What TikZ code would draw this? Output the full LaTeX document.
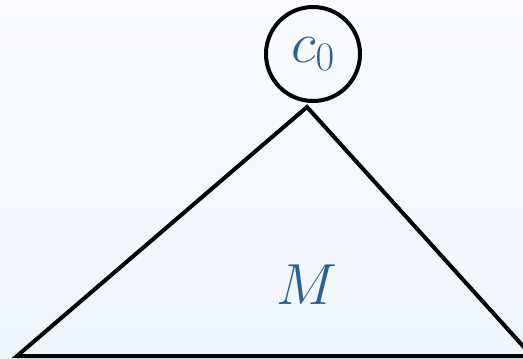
\documentclass[tikz,border=0pt]{standalone}
\usepackage{fix-cm}
\definecolor{txtblue}{HTML}{2B5F97}
\definecolor{bgtop}{HTML}{F9FBFE}
\definecolor{bgbot}{HTML}{EEF5FC}
\begin{document}
\begin{tikzpicture}[x=1pt,y=-1pt,
  lbl/.style={text=txtblue,font=\fontsize{58}{64}\selectfont},
  nodecirc/.style={circle,draw=black,line width=4pt,minimum size=94pt,inner sep=0pt}]
\useasboundingbox (0,0) rectangle (523,359);
\shade[top color=bgtop,bottom color=bgbot] (0,0) rectangle (523,359);
\begin{scope}
\clip (0,0) rectangle (523,359);
\coordinate (apex) at (307,107);
\coordinate (bl) at (17,356);
\coordinate (br) at (532,356);
\draw[line width=4pt,line join=miter] (apex) -- (bl) -- (br) -- cycle;
\end{scope}
\node[nodecirc] (c0) at (313,54) {};
\node[lbl] (c0lbl) at (313,54) {$c_0$};
\node[lbl] (M) at (307,285) {$M$};
\end{tikzpicture}
\end{document}
